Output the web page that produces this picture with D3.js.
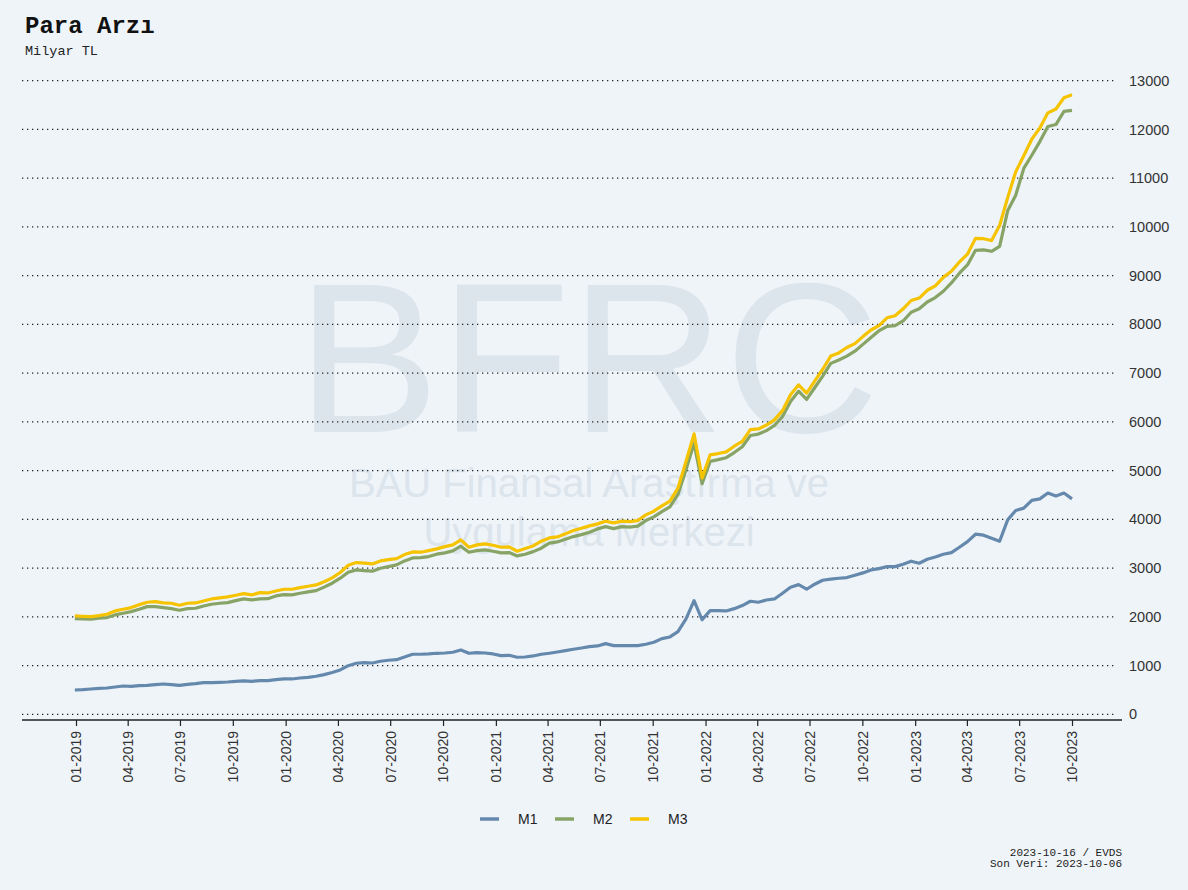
<!DOCTYPE html>
<html>
<head>
<meta charset="utf-8">
<script src="https://cdn.jsdelivr.net/npm/d3@7"></script>
<style>
  body { margin: 0; background: #eff4f9; }
  svg { display: block; }
</style>
</head>
<body>
<svg id="chart" width="1188" height="890"></svg>
<script>
// Series names and colours
const seriesNames = ["M1", "M2", "M3"];
const seriesColors = ["#6589ad", "#87a466", "#f6c300"];

// Biweekly observations, first date and step (days)
const firstDate = new Date(2018, 11, 30);
const stepDays = 14;

// Values, milyar TL
const m1 = [499, 505, 519, 533, 540, 560, 581, 574, 588, 595,
  608, 622, 608, 595, 615, 628, 649, 649, 656, 663,
  677, 684, 677, 690, 690, 710, 725, 725, 745, 759,
  780, 815, 858, 910, 998, 1047, 1059, 1053, 1088, 1109,
  1121, 1176, 1232, 1232, 1238, 1252, 1258, 1273, 1320, 1252,
  1265, 1258, 1238, 1203, 1211, 1170, 1176, 1197, 1232, 1252,
  1279, 1306, 1334, 1361, 1388, 1402, 1450, 1409, 1409, 1409,
  1409, 1437, 1478, 1552, 1587, 1696, 1956, 2332, 1940, 2127,
  2127, 2121, 2168, 2230, 2320, 2299, 2345, 2367, 2484, 2607,
  2661, 2566, 2669, 2751, 2772, 2792, 2805, 2854, 2901, 2963,
  2989, 3030, 3030, 3080, 3141, 3100, 3182, 3229, 3285, 3318,
  3428, 3544, 3695, 3675, 3613, 3550, 3990, 4180, 4230, 4390,
  4420, 4540, 4480, 4540, 4420];

const m2 = [1963, 1956, 1950, 1971, 1984, 2039, 2073, 2107, 2155, 2209,
  2209, 2189, 2168, 2135, 2168, 2176, 2223, 2258, 2279, 2292,
  2332, 2367, 2347, 2367, 2373, 2429, 2455, 2449, 2484, 2511,
  2538, 2610, 2690, 2792, 2915, 2963, 2949, 2936, 2997, 3030,
  3065, 3147, 3209, 3215, 3236, 3285, 3312, 3353, 3449, 3326,
  3359, 3373, 3346, 3312, 3318, 3250, 3285, 3338, 3408, 3511,
  3537, 3593, 3646, 3687, 3736, 3804, 3850, 3810, 3850, 3840,
  3860, 3975, 4050, 4160, 4255, 4510, 5020, 5560, 4730, 5190,
  5225, 5265, 5370, 5490, 5720, 5750, 5820, 5925, 6110, 6420,
  6630, 6460, 6700, 6940, 7200, 7270, 7350, 7450, 7590, 7730,
  7870, 7960, 7975, 8070, 8250, 8320, 8460, 8550, 8680, 8850,
  9050, 9220, 9520, 9530, 9500, 9600, 10330, 10650, 11200, 11470,
  11750, 12060, 12100, 12370, 12390];

const m3 = [2018, 2011, 2004, 2025, 2053, 2121, 2155, 2189, 2250, 2299,
  2312, 2285, 2279, 2238, 2279, 2285, 2326, 2367, 2388, 2408,
  2443, 2476, 2449, 2497, 2490, 2531, 2566, 2566, 2600, 2628,
  2655, 2720, 2800, 2910, 3059, 3113, 3100, 3086, 3147, 3174,
  3195, 3277, 3332, 3326, 3359, 3394, 3441, 3476, 3578, 3428,
  3476, 3496, 3469, 3428, 3435, 3346, 3400, 3455, 3551, 3619,
  3640, 3702, 3770, 3818, 3866, 3907, 3960, 3927, 3962, 3954,
  3975, 4092, 4167, 4276, 4373, 4640, 5186, 5754, 4850, 5323,
  5350, 5385, 5500, 5600, 5840, 5855, 5935, 6040, 6230, 6555,
  6760, 6590, 6836, 7080, 7350, 7415, 7525, 7605, 7750, 7885,
  7975, 8135, 8177, 8320, 8490, 8540, 8700, 8790, 8965, 9090,
  9280, 9440, 9765, 9758, 9720, 10030, 10600, 11130, 11460, 11800,
  12030, 12340, 12420, 12650, 12710];

// Y axis ticks
const yTicks = [0, 1000, 2000, 3000, 4000, 5000, 6000, 7000, 8000, 9000, 10000, 11000, 12000, 13000];

const dates = m1.map((d, i) => d3.timeDay.offset(firstDate, i * stepDays));
const allSeries = [m1, m2, m3];

const svg = d3.select("#chart");
const mono = "'Liberation Mono', 'Courier New', monospace";
const sans = "'Liberation Sans', Arial, sans-serif";

// Scales
const x = d3.scaleTime()
    .domain([new Date(2019, 0, 1), new Date(2023, 9, 1)])
    .range([76, 1072]);
const y = d3.scaleLinear()
    .domain([0, 13000])
    .range([714.3, 80.7]);

// Watermark (one text element, three lines)
const wm = svg.append("text")
    .attr("fill", "#d6dfe8").attr("opacity", 0.75)
    .attr("font-family", sans).attr("text-anchor", "middle");
wm.append("tspan").attr("x", 588).attr("y", 432).attr("font-size", 214).text("BFRC");
wm.append("tspan").attr("x", 589).attr("y", 497).attr("font-size", 40).text("BAU Finansal Araştırma ve");
wm.append("tspan").attr("x", 589).attr("y", 546).attr("font-size", 40).text("Uygulama Merkezi");

// Title
svg.append("text").attr("x", 25).attr("y", 33)
    .attr("font-family", mono).attr("font-weight", "bold").attr("font-size", 24)
    .attr("fill", "#111").text("Para Arzı");
svg.append("text").attr("x", 25).attr("y", 55)
    .attr("font-family", mono).attr("font-size", 13.5)
    .attr("fill", "#222").text("Milyar TL");

// Dotted grid lines
svg.append("g").selectAll("line")
    .data(yTicks)
    .join("line")
    .attr("x1", 22).attr("x2", 1116)
    .attr("y1", d => y(d)).attr("y2", d => y(d))
    .attr("stroke", "#222").attr("stroke-width", 1.3)
    .attr("stroke-dasharray", "1.3,3.7");

// Y labels on the right
svg.append("g").selectAll("text")
    .data(yTicks)
    .join("text")
    .attr("x", 1129).attr("y", d => y(d))
    .attr("dy", "0.35em")
    .attr("font-family", sans).attr("font-size", 14.5)
    .attr("fill", "#333")
    .text(d => d);

// X axis
const xAxis = d3.axisBottom(x)
    .ticks(d3.timeMonth.every(3))
    .tickFormat(d3.timeFormat("%m-%Y"))
    .tickSize(6)
    .tickSizeOuter(0);
const gx = svg.append("g")
    .attr("transform", "translate(0,720)")
    .call(xAxis);
gx.select(".domain").attr("d", "M22,0H1122").attr("stroke", "#222").attr("stroke-width", 1.5);
gx.selectAll(".tick line").attr("stroke", "#222").attr("stroke-width", 1.2);
gx.selectAll(".tick text")
    .attr("font-family", sans).attr("font-size", 14).attr("fill", "#333")
    .attr("transform", "rotate(-90)")
    .attr("text-anchor", "end")
    .attr("x", -11).attr("y", 0).attr("dy", "0.35em");

// Lines
const line = d3.line()
    .x((d, i) => x(dates[i]))
    .y(d => y(d));

svg.append("g").selectAll("path")
    .data(allSeries)
    .join("path")
    .attr("d", line)
    .attr("fill", "none")
    .attr("stroke", (d, i) => seriesColors[i])
    .attr("stroke-width", 3.2)
    .attr("stroke-linejoin", "round");

// Legend
const legend = svg.append("g").attr("transform", "translate(480,819)");
const item = legend.selectAll("g")
    .data(seriesNames)
    .join("g")
    .attr("transform", (d, i) => `translate(${i * 75},0)`);
item.append("line")
    .attr("x1", 0).attr("x2", 19)
    .attr("stroke", (d, i) => seriesColors[i])
    .attr("stroke-width", 3.5);
item.append("text")
    .attr("x", 38).attr("dy", "0.35em")
    .attr("font-family", sans).attr("font-size", 14).attr("fill", "#222")
    .text(d => d);

// Caption
const cap = svg.append("g").attr("font-family", mono).attr("font-size", 11)
    .attr("fill", "#222").attr("text-anchor", "end");
cap.append("text").attr("x", 1122).attr("y", 856).text("2023-10-16 / EVDS");
cap.append("text").attr("x", 1122).attr("y", 867).text("Son Veri: 2023-10-06");
</script>
</body>
</html>
